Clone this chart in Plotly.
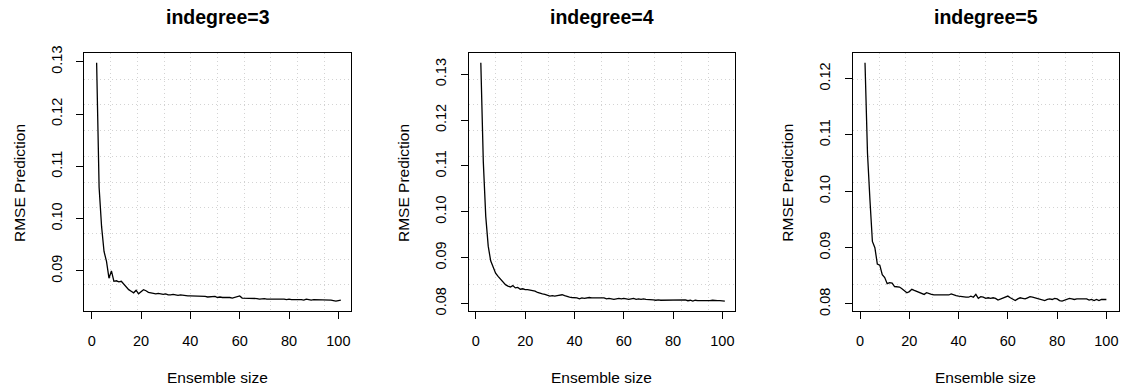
import plotly.graph_objects as go

# ---------------- data ----------------
ens_size_3 = list(range(2, 102))
rmse_indegree_3 = [
    0.1298, 0.1060, 0.0985, 0.0937, 0.0918, 0.0886, 0.0900, 0.0880, 0.0881, 0.0879,
    0.0880, 0.0874, 0.0869, 0.0864, 0.0861, 0.0858, 0.0863, 0.0856, 0.0860, 0.0864,
    0.0862, 0.0859, 0.0858, 0.0857, 0.0856, 0.0857, 0.0856, 0.0855, 0.0856, 0.0854,
    0.0854, 0.0855, 0.0854, 0.0853, 0.0854, 0.0853, 0.0853, 0.0852, 0.0852, 0.0852,
    0.0851, 0.0852, 0.0851, 0.0852, 0.0851, 0.0850, 0.0850, 0.0850, 0.0851, 0.0849,
    0.0850, 0.0849, 0.0849, 0.0850, 0.0849, 0.0848, 0.0849, 0.0850, 0.0852, 0.0848,
    0.0848, 0.0847, 0.0847, 0.0848, 0.0847, 0.0847, 0.0846, 0.0847, 0.0847, 0.0846,
    0.0846, 0.0847, 0.0846, 0.0846, 0.0846, 0.0847, 0.0846, 0.0845, 0.0846, 0.0845,
    0.0845, 0.0846, 0.0845, 0.0845, 0.0844, 0.0846, 0.0845, 0.0844, 0.0845, 0.0845,
    0.0844, 0.0845, 0.0844, 0.0844, 0.0845, 0.0844, 0.0843, 0.0842, 0.0843, 0.0844,
]

ens_size_4 = list(range(2, 102))
rmse_indegree_4 = [
    0.1325, 0.1110, 0.0990, 0.0925, 0.0893, 0.0877, 0.0866, 0.0859, 0.0853, 0.0847,
    0.0841, 0.0838, 0.0836, 0.0839, 0.0834, 0.0835, 0.0831, 0.0832, 0.0830, 0.0830,
    0.0829, 0.0829, 0.0827, 0.0824, 0.0822, 0.0821, 0.0820, 0.0818, 0.0816, 0.0817,
    0.0816, 0.0817, 0.0818, 0.0819, 0.0817, 0.0815, 0.0814, 0.0813, 0.0813, 0.0812,
    0.0810, 0.0812, 0.0811, 0.0812, 0.0813, 0.0812, 0.0812, 0.0811, 0.0812, 0.0811,
    0.0812, 0.0810, 0.0811, 0.0810, 0.0809, 0.0810, 0.0811, 0.0810, 0.0811, 0.0810,
    0.0809, 0.0810, 0.0811, 0.0809, 0.0810, 0.0809, 0.0810, 0.0809, 0.0809, 0.0808,
    0.0808, 0.0807, 0.0808, 0.0807, 0.0807, 0.0808, 0.0807, 0.0808, 0.0807, 0.0808,
    0.0807, 0.0808, 0.0807, 0.0808, 0.0806, 0.0807, 0.0805, 0.0807, 0.0806, 0.0806,
    0.0805, 0.0806, 0.0806, 0.0806, 0.0807, 0.0806, 0.0806, 0.0806, 0.0805, 0.0805,
]

ens_size_5 = list(range(2, 101))
rmse_indegree_5 = [
    0.1228, 0.1068, 0.0985, 0.0911, 0.0900, 0.0871, 0.0869, 0.0852, 0.0847, 0.0836,
    0.0838, 0.0837, 0.0831, 0.0830, 0.0830, 0.0827, 0.0823, 0.0820, 0.0822, 0.0826,
    0.0824, 0.0822, 0.0821, 0.0819, 0.0817, 0.0820, 0.0818, 0.0817, 0.0816, 0.0816,
    0.0816, 0.0815, 0.0816, 0.0815, 0.0816, 0.0818, 0.0816, 0.0815, 0.0814, 0.0813,
    0.0812, 0.0812, 0.0812, 0.0814, 0.0812, 0.0817, 0.0810, 0.0813, 0.0812, 0.0810,
    0.0811, 0.0810, 0.0811, 0.0810, 0.0807, 0.0809, 0.0811, 0.0813, 0.0814, 0.0811,
    0.0808, 0.0806, 0.0809, 0.0811, 0.0810, 0.0809, 0.0811, 0.0813, 0.0812, 0.0811,
    0.0810, 0.0809, 0.0808, 0.0806, 0.0808, 0.0809, 0.0808, 0.0810, 0.0809, 0.0806,
    0.0805, 0.0807, 0.0808, 0.0810, 0.0809, 0.0808, 0.0809, 0.0809, 0.0809, 0.0809,
    0.0809, 0.0807, 0.0808, 0.0806, 0.0808, 0.0806, 0.0808, 0.0808, 0.0808,
]

panel_titles = ["indegree=3", "indegree=4", "indegree=5"]
x_label = "Ensemble size"
y_label = "RMSE Prediction"
x_ticks = [0, 20, 40, 60, 80, 100]
y_ticks_3 = [0.09, 0.10, 0.11, 0.12, 0.13]
y_ticks_4 = [0.08, 0.09, 0.10, 0.11, 0.12, 0.13]
y_ticks_5 = [0.08, 0.09, 0.10, 0.11, 0.12]

# ---------------- layout helpers ----------------
W, H = 1130, 389
FONT = "Liberation Sans"
box_left = [84.3, 468.5, 852.7]
box_right = [350.7, 734.7, 1118.7]
box_top, box_bottom = 53.3, 310.7


def fx(px):
    return px / W


def fy(py):
    return 1 - py / H


panels = [
    (ens_size_3, rmse_indegree_3, y_ticks_3),
    (ens_size_4, rmse_indegree_4, y_ticks_4),
    (ens_size_5, rmse_indegree_5, y_ticks_5),
]

fig = go.Figure()
annotations = []
layout_axes = {}

for i, (xs, ys, yt) in enumerate(panels):
    n = "" if i == 0 else str(i + 1)
    fig.add_trace(go.Scatter(
        x=xs, y=ys, mode="lines",
        line=dict(color="black", width=1.3),
        xaxis="x" + n, yaxis="y" + n, showlegend=False, hoverinfo="skip",
    ))
    xr = [-3, 105]
    ymin, ymax = min(ys), max(ys)
    ext = 0.04 * (ymax - ymin)
    yr = [ymin - ext, ymax + ext]
    xgrid = [xr[0] + k * (xr[1] - xr[0]) / 10 for k in range(1, 10)]
    ygrid = [yr[0] + k * (yr[1] - yr[0]) / 10 for k in range(1, 10)]

    common = dict(
        showline=True, linecolor="black", linewidth=1, mirror=True,
        ticks="outside", ticklen=7, tickwidth=1, tickcolor="black",
        showgrid=False, zeroline=False, automargin=False,
        tickfont=dict(family=FONT, size=14.5, color="black"),
    )
    layout_axes["xaxis" + n] = dict(
        common,
        domain=[fx(box_left[i]), fx(box_right[i])],
        range=xr, anchor="y" + n,
        tickmode="array", tickvals=x_ticks,
        ticktext=[str(v) for v in x_ticks],
        ticklabelstandoff=10,
        minor=dict(tickmode="array", tickvals=xgrid, showgrid=True,
                   gridcolor="#D3D3D3", griddash="1px,3px", gridwidth=1, ticks=""),
    )
    layout_axes["yaxis" + n] = dict(
        common,
        domain=[fy(box_bottom), fy(box_top)],
        range=yr, anchor="x" + n,
        tickmode="array", tickvals=yt,
        ticktext=["%.2f" % v for v in yt],
        tickangle=-90, ticklabelstandoff=9,
        minor=dict(tickmode="array", tickvals=ygrid, showgrid=True,
                   gridcolor="#D3D3D3", griddash="1px,3px", gridwidth=1, ticks=""),
    )

    cx = (box_left[i] + box_right[i]) / 2
    annotations.append(dict(
        text="<b>" + panel_titles[i] + "</b>", x=fx(cx), y=fy(17),
        xref="paper", yref="paper", xanchor="center", yanchor="middle",
        showarrow=False, font=dict(family=FONT, size=19.5, color="black"),
    ))
    annotations.append(dict(
        text=x_label, x=fx(cx), y=fy(377),
        xref="paper", yref="paper", xanchor="center", yanchor="middle",
        showarrow=False, font=dict(family=FONT, size=15.5, color="black"),
    ))
    ylab_x = [19.0, 403.0, 786.7][i]
    annotations.append(dict(
        text=y_label, x=fx(ylab_x), y=fy(183), textangle=-90,
        xref="paper", yref="paper", xanchor="center", yanchor="middle",
        showarrow=False, font=dict(family=FONT, size=15.5, color="black"),
    ))

fig.update_layout(
    width=W, height=H,
    margin=dict(l=0, r=0, t=0, b=0),
    paper_bgcolor="white", plot_bgcolor="white",
    annotations=annotations,
    **layout_axes,
)

fig.write_html(
    "out.html",
    config={"displayModeBar": False},
    post_script="document.body.style.margin='0';",
)
